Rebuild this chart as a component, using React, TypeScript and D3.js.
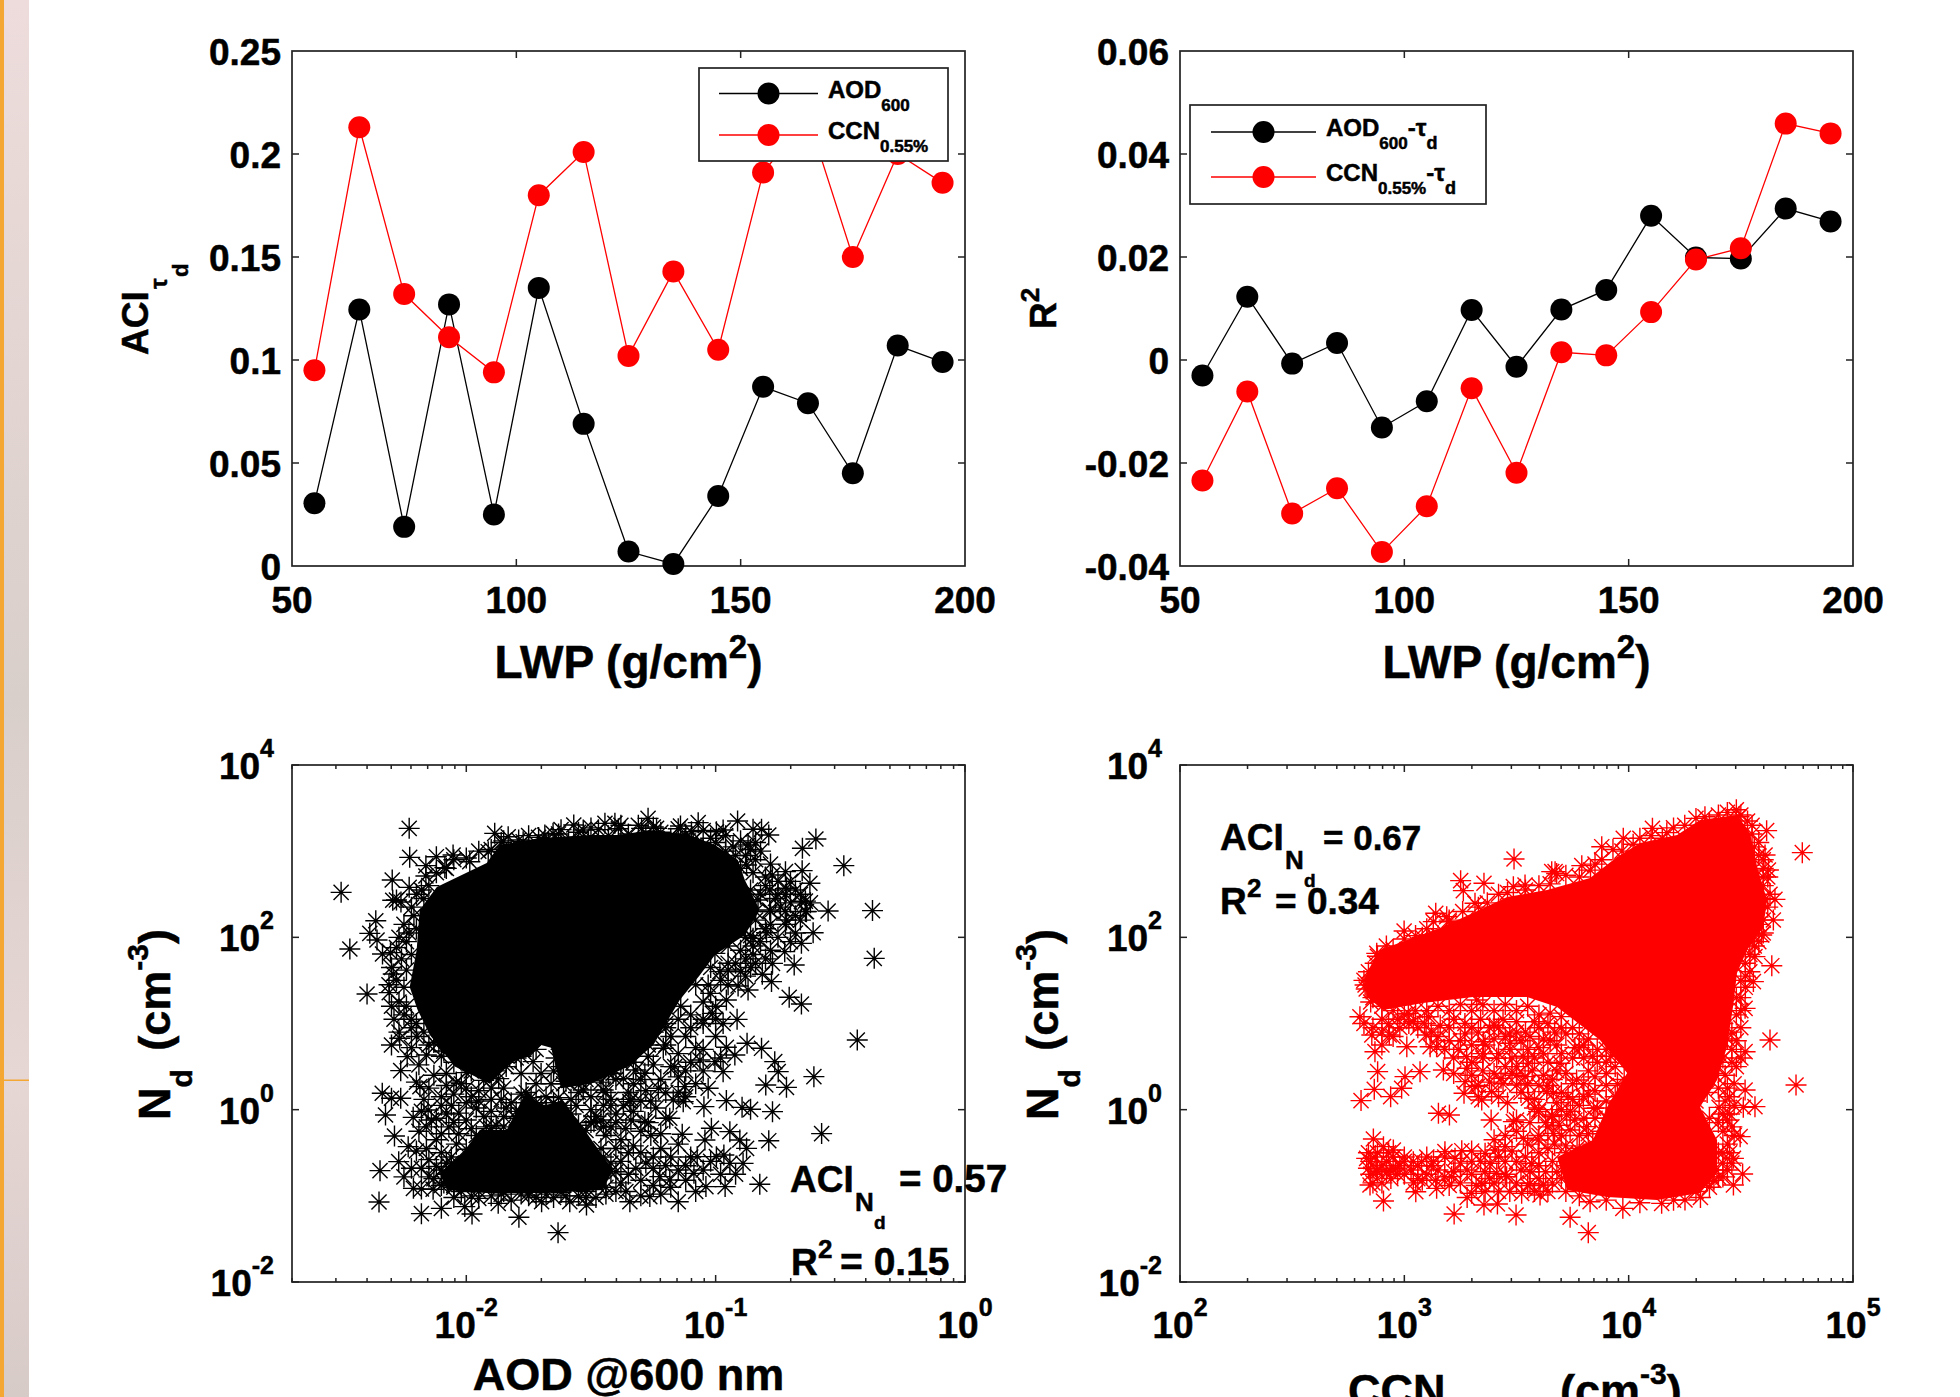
import React from "react";
import * as d3 from "d3";

const FONT = "'Liberation Sans', Arial, sans-serif";

// top row: value per LWP bin
const lwp = [55, 65, 75, 85, 95, 105, 115, 125, 135, 145, 155, 165, 175, 185, 195];
const aciAod = [0.0305, 0.1245, 0.019, 0.127, 0.025, 0.135, 0.069, 0.007, 0.001, 0.034, 0.087, 0.079, 0.045, 0.107, 0.099];
const aciCcn = [0.095, 0.213, 0.132, 0.111, 0.094, 0.18, 0.201, 0.102, 0.143, 0.105, 0.191, 0.218, 0.15, 0.2, 0.186];
const r2Aod = [-0.003, 0.0123, -0.0007, 0.0033, -0.0131, -0.008, 0.0097, -0.0013, 0.0098, 0.0136, 0.028, 0.0199, 0.0197, 0.0294, 0.0269];
const r2Ccn = [-0.0234, -0.0061, -0.0298, -0.0249, -0.0373, -0.0284, -0.0055, -0.0219, 0.0015, 0.0009, 0.0093, 0.0195, 0.0217, 0.0459, 0.044];

const lwpTicks = [50, 100, 150, 200];
const aciTicks = ["0", "0.05", "0.1", "0.15", "0.2", "0.25"];
const r2Ticks = ["-0.04", "-0.02", "0", "0.02", "0.04", "0.06"];
const ndExponents = [-2, 0, 2, 4];
const aodExponents = [-2, -1, 0];
const ccnExponents = [2, 3, 4, 5];

// bottom row: [log10 x, log10 y] of points
const aodPoints = [
  [-2.229,3.265],[-2.227,2.928],[-2.502,2.522],[-2.297,2.665],[-2.229,2.58],[-2.363,2.193],[-2.387,2.046],[-2.358,1.969],[-2.467,1.865],[-2.336,1.807],[-2.304,1.822],[-2.398,1.342],[-2.309,1.358],[-2.28,2.433],[-2.295,2.43],[-2.262,2.41],[-2.293,1.575],[-2.162,2.832],[-2.12,2.936],[-2.086,2.809],[-2.162,2.712],[-2.053,2.956],[-1.986,2.878],[-1.886,3.207],[-1.912,2.994],[-1.832,3.168],[-1.772,3.11],[-1.685,3.188],[-1.652,3.207],[-1.569,3.304],[-1.531,3.246],[-1.444,3.323],[-1.404,3.323],
  [-1.271,3.381],[-1.297,3.265],[-1.237,3.265],[-1.141,3.292],[-1.07,3.331],[-1.097,3.226],[-0.997,3.226],[-0.97,3.245],[-0.912,3.35],[-0.85,3.254],[-0.816,3.254],[-0.787,3.188],[-0.87,3.072],[-0.876,2.84],[-0.598,3.141],[-0.652,3.033],[-0.486,2.832],[-0.773,2.723],[-0.72,2.762],[-0.653,2.774],[-0.622,2.627],[-0.716,2.569],[-0.783,2.549],[-0.83,2.433],[-0.656,2.414],[-0.636,2.298],[-0.549,2.306],[-0.371,2.31],[-0.783,2.317],[-0.716,2.201],[-0.796,2.054],[-0.609,2.054],[-0.656,1.93],[-0.85,1.988],[-0.364,1.756],[-0.723,1.834],[-0.685,1.679],[-0.772,1.698],[-0.813,1.571],[-0.776,1.486],[-0.87,1.389],[-0.91,1.435],[-0.957,1.273],[-0.95,1.621],[-0.983,1.602],[-0.705,1.304],[-0.656,1.226],[-0.914,1.048],[-1.013,1.118],[-1.03,1.447],[-1.003,1.814],
  [-2.267,0.828],[-2.237,0.615],[-2.263,0.453],[-2.337,0.19],[-2.3,0.132],[-2.263,0.132],[-2.324,-0.062],[-2.213,-0.089],[-2.288,-0.305],[-2.233,-0.429],[-2.271,-0.603],[-2.346,-0.708],[-2.35,-1.071],[-2.212,-0.913],[-2.133,-0.924],[-2.18,-1.207],[-2.1,-1.145],[-1.977,-1.211],[-2.006,-1.125],[-1.789,-1.249],[-1.632,-1.427],[-1.872,-1.087],[-1.698,-1.068],[-1.585,-1.068],[-1.518,-1.106],[-1.732,0.557],[-1.488,-0.139],[-1.558,-0.835],[-1.451,0.228],[-1.531,0.228],[-1.411,0.422],[-2.186,0.267],[-2.153,-0.004],[-2.16,0.635],
  [-0.432,0.809],[-0.606,0.383],[-0.575,-0.278],[-0.957,0.724],[-0.923,0.635],[-0.874,0.77],[-0.816,0.712],[-0.763,0.557],[-0.749,0.441],[-0.799,0.286],[-0.716,0.259],[-0.97,0.441],[-1.003,0.557],[-1.063,0.577],[-1.03,0.248],[-0.957,0.105],[-1.047,0.035],[-0.894,0.027],[-0.86,0.004],[-0.772,-0.023],[-0.787,-0.36],[-1.017,-0.216],[-0.943,-0.255],[-1.043,-0.352],[-0.903,-0.352],[-0.876,-0.449],[-0.967,-0.526],[-0.997,-0.545],[-0.89,-0.623],[-0.943,-0.623],[-1.074,-0.545],[-1.087,-0.739],[-1.039,-0.893],[-0.962,-0.893],[-0.823,-0.866],[-1.134,-0.286],[-1.15,-1.068],[-1.264,-1.009],[-1.344,-1.068],[-1.184,-0.816],[-1.224,-0.777],[-1.284,-0.139],[-1.184,-0.1],[-1.13,0.093],[-1.17,0.112],[-1.124,0.267],[-1.23,0.248],[-1.284,0.422],[-1.164,0.499],[-1.21,0.712],[-1.344,0.093],[-1.337,0.692],
  [-2.15,0.75],[-2.1,0.62],[-2.19,0.52],[-2.13,0.4],[-2.08,0.28],[-2.17,0.12],[-2.1,0.05],[-2.05,0.18],[-2.14,-0.12],[-2.07,-0.2],[-2.19,-0.25],[-2.12,-0.35],[-2.04,-0.4],[-2.2,-0.48],[-2.15,-0.58],[-2.08,-0.62],[-2.22,-0.68],[-2.13,-0.8],[-2.05,-0.88],[-2.18,-0.92],[-2.25,-0.78],[-2.02,0.3],[-1.98,0.15],[-1.96,0.02],[-2,-0.12],[-1.93,-0.08],[-1.98,0.45],[-1.9,0.12],[-1.85,0.25],[-1.82,0.08],[-1.78,0.42],[-1.75,-0.02],[-1.88,-0.18],[-1.72,0.3],[-1.68,0.15],[-1.65,0.45],[-1.6,0.33],[-1.58,0.58],[-1.62,0.7],[-1.52,0.62],[-1.5,0.42],[-1.48,0.75],[-1.42,0.62],[-1.4,0.35],[-1.38,0.55],[-1.35,0.2],[-1.3,0.35],[-1.45,0.05],[-1.4,-0.05],[-1.33,-0.02],[-1.3,0.1],[-1.27,-0.15],[-1.36,-0.22],[-1.44,-0.3],[-1.4,-0.45],[-1.33,-0.42],[-1.26,-0.3],[-1.22,-0.45],[-1.18,-0.55],[-1.28,-0.62],[-1.15,-0.7],[-1.35,-0.75],[-1.25,-0.88],[-1.4,-0.95],[-1.48,-1.02],[-1.55,-1],[-1.65,-1.02],[-1.75,-1],[-1.82,-1.05],[-1.95,-1.03],[-2.05,-1.02],[-1.12,-0.82],[-1.08,-0.95],[-1.25,0.52],[-1.15,0.38],[-1.1,0.55],[-1.05,0.7],[-1,0.85],[-1.12,0.85],[-1.2,0.95],[-1.05,1],[-0.98,0.6],
  [-1,1.2],[-0.95,1.45],[-0.88,1.55],[-0.92,1.7],[-0.85,1.9],[-0.8,2.1],[-0.78,2.3],[-0.76,2.45],[-0.8,2.6],[-0.85,2.75],[-0.88,2.95],[-0.93,3.05],[-1.02,3.15],[-1.12,3.2],[-1.25,3.28],[-1.38,3.3],[-1.5,3.27],[-1.62,3.25],[-1.75,3.18],[-1.85,3.12],[-1.95,3],[-2.05,2.9],[-2.12,2.75],[-2.18,2.55],[-2.22,2.35],[-2.25,2.15],[-2.24,1.95],[-2.26,1.75],[-2.28,1.5],[-2.27,1.25],[-2.25,1.1],[-2.22,0.95],
  [-1.9,3.02],[-1.86,3.1],[-1.82,3],[-1.79,3.13],[-1.75,3.05],[-1.71,3.16],[-1.67,3.1],[-1.63,3.2],[-1.59,3.12],[-1.55,3.22],[-1.51,3.14],[-1.47,3.25],[-1.43,3.18],[-1.39,3.26],[-1.35,3.2],[-1.31,3.3],[-1.28,3.2],[-1.22,3.22],[-1.18,3.15],[-1.15,3.26],[-1.09,3.13],[-1.05,3.24],[-1,3.1],[-0.96,3.18],[-0.9,3.12],[-0.86,3.02],[-0.84,2.9],[-0.92,2.95],[-0.96,3],
  [-2,2.92],[-2.08,2.8],[-2.15,2.6],[-2.17,2.45],[-2.2,2.5],[-2.21,2.25],[-2.23,2.05],[-2.27,2],[-2.2,2.1],[-2.28,1.88],[-2.22,1.8],[-2.3,1.65],[-2.24,1.62],[-2.25,1.42],[-2.31,1.45],[-2.3,1.2],[-2.24,1.2],[-2.29,1.05],[-2.22,1.05],[-2.27,0.9],[-2.2,0.85],[-2.3,0.75],[-2.22,0.72],
  [-2.11,0.78],[-2.05,0.72],[-2,0.6],[-1.94,0.52],[-1.88,0.45],[-1.84,0.5],[-1.8,0.6],[-1.55,0.2],[-1.5,0.15],[-1.44,0.2],[-1.37,0.36],[-1.32,0.46],[-1.27,0.62],[-1.2,0.75],[-1.15,0.65],[-1.18,0.5],[-1.22,0.35],[-1.28,0.22],[-1.34,0.12],[-1.42,0.12],[-1.5,0],[-1.56,0.05],[-1.62,0.02],[-1.68,-0.02],[-1.72,0.08],[-1.78,0.18],[-1.84,0.02],[-1.9,-0.02],[-1.95,0.22],[-2,0.08],[-2.03,-0.04],[-2.06,0.05],[-2.1,0.15],[-2.15,0.25],[-2.2,0.32],[-2.18,-0.02],[-2.12,-0.1],[-2.08,-0.05],[-2.05,-0.15],[-2.16,-0.2],[-2.1,-0.28],[-2.03,-0.28],[-1.98,-0.22],[-1.92,-0.2],[-1.85,-0.08],[-1.8,-0.1],[-1.72,-0.15],[-1.65,-0.12],[-1.6,-0.15],[-1.55,-0.18],[-1.5,-0.15],[-1.46,-0.12],[-1.42,-0.2],[-1.38,-0.35],[-1.35,-0.5],[-1.3,-0.5],[-1.38,-0.6],[-1.32,-0.68],[-1.25,-0.68],[-1.2,-0.65],[-1.25,-0.55],[-1.3,-0.82],[-1.42,-0.72],[-1.38,-0.85],[-1.45,-0.55],
  [-2.16,-0.45],[-2.1,-0.5],[-2.06,-0.55],[-2.18,-0.68],[-2.12,-0.66],[-2.08,-0.75],[-2.02,-0.72],[-2.15,-0.78],[-2.1,-0.88],[-2.02,-0.95],[-1.98,-1],[-1.9,-1],[-1.86,-0.98],[-1.78,-0.98],[-1.72,-1.02],[-1.68,-0.98],[-1.6,-1],[-1.52,-1.02],[-1.44,-0.98],[-1.36,-0.95],[-1.3,-1],[-1.22,-0.98],[-1.18,-0.9],
  [-1.95,0.7],[-1.9,0.62],[-1.7,0.42],[-1.66,0.3],[-1.64,0.6],
  [-1.05,1.25],[-1.1,1.1],[-1.15,1.05],[-1.02,1.35],[-0.98,1.5],[-0.9,1.6],[-0.95,1.7],[-0.88,1.75],[-0.86,1.65],[-0.9,1.85],[-0.86,2.02],[-0.82,1.95],[-0.78,1.85],[-0.84,2.2],[-1.05,1.05],[-1.1,0.95],[-1.18,0.85],[-1.25,0.9],[-1.3,0.8],[-1,1.05],[-0.97,1],[-1.08,0.72],
  [-0.82,2.5],[-0.78,2.15],[-0.74,2.35],[-0.7,2.4],[-0.72,2.15],[-0.68,2.25],[-0.66,2.5],[-0.7,2.65],[-0.75,2.65],[-0.66,2.2],[-0.64,2.3],[-0.62,2.4],[-0.64,2.42],
  [-2.1,-0.7],[-2.06,-0.62],[-2,-0.46],[-1.96,-0.3],[-1.9,-0.22],[-1.85,-0.2],[-1.8,-0.02],[-1.76,0.2],[-1.7,0.05],[-1.63,0.14],[-1.58,-0.05],[-1.52,-0.24],[-1.46,-0.45],[-1.42,-0.62],[-1.4,-0.72],[-1.44,-0.9],[-1.52,-0.95],[-1.62,-0.96],[-1.75,-0.96],[-1.85,-0.95],[-1.95,-0.95],[-2.05,-0.9],[-2.09,-0.85],
  [-2.2,1],[-2.17,0.9],[-2.13,0.78],[-2.09,0.68],[-2.05,0.55],[-2,0.43],[-1.93,0.34],[-1.87,0.36],[-1.84,0.55],[-1.78,0.62],[-1.72,0.7],[-1.62,0.5],[-1.61,0.3],[-1.52,0.35],[-1.43,0.42],[-1.33,0.55],[-1.27,0.75],[-1.2,1],[-1.14,1.2],[-1.08,1.45],[-1.02,1.65],[-0.95,1.9],[-0.88,2],[-0.84,2.3],[-0.86,2.55],[-0.9,2.8],
  [-2.08,0.42],[-2.04,0.32],[-2,0.25],[-1.95,0.1],[-1.9,0.25],[-1.86,0.12],[-1.74,0.14],[-1.65,0.08],[-1.58,0.12],[-1.54,0.32],[-1.46,0.32],[-1.42,0.05],[-1.37,0.05],[-1.33,0.3],[-1.26,0.1],[-1.2,0.2],[-1.12,0.15],[-1.08,0.3],[-1.05,0.45],[-1.12,0.45],[-1.15,0.2],[-1.24,0.02],[-1.2,-0.1],[-1.34,-0.12],[-1.3,-0.25],[-1.22,-0.28],[-1.15,-0.4],[-1.1,-0.55],[-1.12,-0.65],[-1.05,-0.7],[-1.02,-0.6],[-0.98,-0.75],[-0.92,-0.75],[-1.45,-0.2],[-1.48,-0.08],[-1.4,-0.15],
  [-0.72,2.5],[-0.68,2.55],[-0.75,2.5],[-0.72,2.3],[-0.68,2.05],[-0.75,2],[-0.7,1.95],[-0.8,1.75],[-0.84,1.7],[-0.85,1.8],[-0.8,2.7],[-0.78,2.85],[-0.82,3],[-0.84,3.1],
];
// where the markers merge into solid colour
const aodCore = [
  [-1.918,2.863],[-2.118,2.584],[-2.187,2.317],[-2.199,1.853],[-2.227,1.424],[-2.195,1.157],[-2.146,0.867],[-2.046,0.5],[-1.906,0.3],[-1.82,0.55],[-1.75,0.62],[-1.7,0.75],[-1.66,0.72],[-1.62,0.25],[-1.5,0.3],[-1.35,0.5],[-1.25,0.75],[-1.144,1.273],[-1.063,1.563],[-1.003,1.795],[-0.883,2.027],[-0.823,2.317],[-0.883,2.665],[-0.911,2.898],[-1.003,3.072],[-1.104,3.188],[-1.264,3.246],[-1.384,3.188],[-1.505,3.188],[-1.705,3.153],[-1.866,3.072],
];
const aodLowCore = [
  [-2.106,-0.735],[-2.014,-0.503],[-1.946,-0.236],[-1.838,-0.236],[-1.757,0.228],[-1.705,0.031],[-1.613,0.112],[-1.517,-0.271],[-1.412,-0.7],[-1.452,-0.932],[-1.677,-0.967],[-1.918,-0.967],[-2.078,-0.932],
];
const ccnPoints = [
  [4.774,2.983],[4.615,3.238],[4.492,3.4],[4.106,3.265],[4.17,3.215],[3.976,3.149],[3.88,3.052],[3.791,2.832],[3.672,2.762],[3.657,2.762],[3.679,2.74],[3.489,2.909],[3.538,2.607],[3.486,2.588],[3.355,2.627],[3.251,2.658],[3.263,2.542],[3.315,2.395],[3.14,2.279],[3.189,2.24],[3.129,2.182],[2.999,2.074],[2.877,1.814],[2.825,1.447],[2.802,1.079],[4.652,2.441],[4.645,2.201],[4.638,1.671],[4.556,1.486],[4.563,1.776],[4.593,2.027],[4.608,2.955],[4.623,2.781],[4.519,1.176],[3.018,1.118],[3.107,1.079],[3.323,1.273],
  [4.746,0.286],[4.63,0.809],[4.519,0.673],[4.519,0.228],[4.563,0.035],[4.511,0.027],[4.403,0.027],[4.497,-0.313],[4.467,-0.565],[4.508,-0.747],[4.467,-0.874],[4.348,-0.835],[4.147,-1.087],[4.251,-1.048],[3.974,-1.145],[3.82,-1.427],[3.739,-1.249],[3.828,-1.068],[3.498,-1.222],[3.222,-1.211],[3.415,-1.095],[3.355,-1.106],[2.907,-1.06],[3.051,-0.952],[3.144,-0.913],[3.211,-0.777],[2.847,-0.874],[2.832,-0.565],[2.862,-0.34],[2.907,-0.429],[2.951,-0.468],[2.936,-0.7],[2.877,-0.7],[3.04,-0.603],[3.077,-0.603],[3.181,-0.487],[3.256,-0.476],[3.226,-0.565],[3.36,-0.507],[3.449,-0.429],[3.405,-0.468],[3.345,-0.855],[3.3,-0.971],[3.523,-0.971],[3.605,-0.99],[3.62,-0.874],[3.531,-0.332],[3.597,-0.352],[3.568,-0.622],[3.387,-0.12],[3.486,-0.139],[3.152,-0.042],[3.201,-0.062],[2.807,0.105],[2.866,0.236],[2.939,0.151],[2.988,0.248],[2.881,0.441],[3.003,0.383],[3.07,0.441],[3.174,0.461],[2.869,0.673],[3.011,0.731],[3.115,0.731],[3.144,0.731],[2.855,0.867],[2.933,0.867],[3.097,0.867],[3.266,0.19],[3.345,0.112],[3.271,0.325],[3.315,0.267],[3.389,0.209],[3.431,0.364],[3.278,0.615],[3.553,0.132],[3.538,0.383],[3.501,0.286],[3.635,0.209],[3.664,0.19],[3.598,-0.023],[3.657,-0.062],[3.724,-0.062],[3.768,0.344],[3.694,0.538],[3.553,0.538],[3.412,0.596],[3.471,0.77],[3.352,0.789],[3.798,0.151],[3.843,0.016],[3.739,-0.236],[3.813,-0.197],[3.664,-0.275],[3.56,-0.855],[3.456,-0.778],[3.412,-0.739],[3.382,-0.622],
  [3.05,2.02],[3.2,2.2],[3.33,2.35],[3.42,2.5],[3.6,2.6],[3.72,2.72],[3.85,2.85],[3.93,3.02],[4.05,3.15],[4.2,3.27],[4.3,3.38],[4.4,3.42],[4.5,3.42],[4.55,3.3],[4.58,3.1],[4.6,2.9],[4.62,2.7],[4.63,2.5],[4.6,2.2],[4.58,1.95],[4.54,1.8],[4.52,1.55],[4.5,1.3],[4.48,1.1],[4.46,0.9],[4.42,0.6],[4.38,0.42],[4.35,0.2],[4.3,0.1],[4.36,-0.1],[4.42,-0.25],[4.4,-0.5],[4.38,-0.7],[4.3,-0.95],[4.2,-1.05],[4.05,-1.08],[3.9,-1.05],[3.78,-1],[3.7,-0.8],[3.72,-0.5],[3.78,-0.3],[3.85,-0.1],[3.9,0.1],[3.95,0.3],[3.9,0.55],[3.8,0.75],[3.7,0.95],[3.6,1.1],[3.5,1.15],[3.4,1.15],[3.3,1.15],[3.2,1.15],[3.1,1.15],[3,1.1],[2.9,1.05],[2.85,1.25],[2.83,1.4],[2.84,1.6],[2.88,1.78],
  [3.3,0.95],[3.4,0.98],[3.5,0.9],[3.6,0.95],[3.55,0.7],[3.45,0.85],[3.62,0.65],[3.75,0.6],[3.75,0.3],[3.82,0.45],[3.62,0.4],[3.7,0.2],[3.6,0],[3.8,-0.1],[3.67,-0.4],[3.6,-0.5],[3.52,-0.7],[3.42,-0.55],[3.3,-0.75],[3.25,-0.85],[3.15,-0.7],[3.1,-0.75],[3,-0.75],[2.95,-0.55],[2.88,-0.5],[2.85,-0.75],[2.9,-0.85],[3.47,-0.95],[3.4,-0.85],[3.3,-0.6],[3.02,1],[2.95,0.85],[2.9,0.9],[3.2,0.95],[3.15,0.85],[3.35,0.65],[3.45,0.5],[3.55,0.3],[3.35,0.45],[3.25,0.8],[3.65,0.8],[4.43,0.1],[4.46,-0.2],[4.45,-0.5],[4.4,0.25],
  [2.85,-0.6],[2.87,-0.55],[2.9,-0.65],[2.92,-0.6],[2.88,-0.72],[2.93,-0.5],[2.96,-0.68],[2.84,-0.68],[2.98,-0.65],[3,-0.6],[3.03,-0.7],[3.06,-0.65],
  [3,1.98],[3.1,2.1],[3.2,2.18],[3.26,2.3],[3.37,2.4],[3.46,2.52],[3.54,2.55],[3.65,2.62],[3.78,2.7],[3.83,2.78],[3.88,2.9],[3.97,3],[4.02,3.08],[4.1,3.18],[4.15,3.15],[4.25,3.3],[4.34,3.4],[4.36,3.32],[4.44,3.45],[4.48,3.48],[2.92,1.9],[2.95,1.86],[3.08,2],[3.15,2.02],
  [4.55,3.2],[4.58,2.95],[4.6,2.8],[4.6,2.6],[4.62,2.35],[4.6,2.05],[4.56,1.9],[4.54,1.6],[4.52,1.42],[4.5,1.15],[4.5,0.95],[4.48,0.8],[4.46,0.55],[4.43,0.4],[4.4,0.5],[4.44,0.25],[4.42,-0.05],[4.4,-0.15],[4.45,-0.05],[4.44,-0.4],[4.42,-0.62],[4.4,-0.78],[4.36,-0.9],[4.32,-1.02],[4.44,-0.7],
  [2.82,1.5],[2.86,1.3],[2.87,1.7],[2.9,1.2],[2.95,1.15],[3.05,1.15],[3.15,1.2],[3.25,1.22],[3.35,1.22],[3.45,1.22],[3.55,1.2],[3.65,1.12],
  [2.82,1],[2.86,0.95],[2.93,1],[2.97,1.05],[3.04,1.02],[3.09,1],[3.16,0.98],[3.22,1.05],[3.27,1],[3.34,1.05],[3.38,0.95],[3.44,1.05],[3.5,1.02],[3.54,0.9],[3.58,1.02],[3.64,1],[3.7,1.08],[3.75,0.95],
  [3.2,0.8],[3.27,0.88],[3.33,0.9],[3.4,0.82],[3.47,0.88],[3.52,0.8],[3.56,0.85],[3.62,0.82],[3.68,0.75],[3.72,0.88],[3.78,0.88],[3.82,0.82],[3.86,0.7],
  [3.22,0.6],[3.3,0.55],[3.35,0.6],[3.42,0.65],[3.47,0.7],[3.53,0.62],[3.58,0.6],[3.64,0.55],[3.7,0.65],[3.76,0.72],[3.8,0.6],[3.86,0.55],[3.92,0.62],[3.9,0.42],
  [3.22,0.42],[3.3,0.4],[3.4,0.42],[3.48,0.42],[3.57,0.45],[3.6,0.28],[3.66,0.35],[3.72,0.42],[3.8,0.3],[3.85,0.38],[3.9,0.28],[3.94,0.15],
  [3.33,0.15],[3.42,0.15],[3.46,0.08],[3.52,0.2],[3.58,0.12],[3.68,0.08],[3.75,0.12],[3.82,0.18],[3.86,0.02],[3.74,-0.02],[3.7,0],
  [3.56,-0.15],[3.63,-0.15],[3.69,-0.18],[3.76,-0.12],[3.82,-0.28],[3.7,-0.3],[3.64,-0.45],[3.72,-0.42],[3.77,-0.45],
  [3.18,-0.55],[3.13,-0.6],[3.08,-0.82],[3.25,-0.62],[3.3,-0.48],[3.34,-0.6],[3.36,-0.72],[3.45,-0.6],[3.48,-0.48],[3.5,-0.85],[3.56,-0.72],[3.6,-0.65],[3.63,-0.72],[3.66,-0.6],[3.58,-0.95],[3.54,-0.55],[3.42,-0.95],[3.36,-0.95],[3.32,-0.88],[3.28,-1.02],[3.2,-0.88],[3.14,-0.82],[3.04,-0.85],
  [2.9,0.75],[2.98,0.95],[3.06,0.95],[3.12,0.9],[3.18,0.7],[3.24,0.7],[3.3,0.75],[3.36,0.75],[3.42,0.95],[3.48,0.6],[3.5,0.5],[3.6,0.72],[3.67,0.9],[3.78,0.72],[3.84,0.62],[3.9,0.7],[3.94,0.5],[3.98,0.35],[3.28,0.48],[3.33,0.28],[3.38,0.32],[3.44,0.3],[3.5,0.4],[3.64,0.28],[3.68,0.45],[3.73,0.15],[3.78,0.05],[3.85,0.22],[3.9,-0.1],[3.88,-0.25],[3.84,-0.4],[3.78,-0.52],[3.72,-0.65],[3.68,-0.72],[3.66,-0.85],[3.72,-0.95],[3.64,-0.95],[3.6,-0.8],[3.55,-0.88],[3.5,-0.6],[3.45,-0.75],[3.38,-0.8],[3.28,-0.7],[3.22,-0.72],[3.18,-0.78],[3.12,-0.65],[3.06,-0.8],[3.1,-0.55],[3,-0.55],[2.97,-0.75],[2.92,-0.72],[2.94,-0.8],[2.84,-0.5],[2.86,-0.85],[3.4,-0.35],[3.45,-0.3],[3.5,-0.25],[3.55,-0.4],[3.6,-0.3],[3.64,-0.2],[3.5,-0.12],[3.58,0.02],[3.66,-0.08],
  [4.42,1],[4.44,0.82],[4.46,0.7],[4.48,0.5],[4.5,0.6],[4.47,0.3],[4.45,0.15],[4.47,0.05],[4.44,-0.12],[4.47,-0.3],[4.46,-0.62],[4.42,-0.78],[4.38,-0.82],[4.42,-0.5],[4.48,1.3],[4.5,1.5],[4.52,1.7],[4.55,1.95],[4.58,2.15],[4.6,2.45],[4.6,2.7],[4.56,3.05],[4.53,3.35],
];
const ccnCore = [
  [2.856,1.702],[2.892,1.853],[3.012,1.969],[3.159,2.108],[3.306,2.282],[3.458,2.468],[3.636,2.549],[3.828,2.689],[3.948,2.932],[4.051,3.095],[4.216,3.188],[4.318,3.362],[4.483,3.42],[4.541,3.211],[4.573,2.816],[4.617,2.433],[4.6,2.12],[4.528,1.853],[4.483,1.586],[4.465,1.192],[4.438,0.727],[4.394,0.344],[4.318,0.031],[4.394,-0.352],[4.394,-0.735],[4.318,-0.967],[4.126,-1.048],[3.904,-1.013],[3.725,-0.932],[3.681,-0.549],[3.841,-0.352],[3.904,0.031],[3.993,0.426],[3.872,0.809],[3.681,1.192],[3.547,1.308],[3.306,1.308],[3.083,1.238],[2.905,1.157],[2.834,1.308],[2.825,1.54],
];

const stripStops = [
  ["0%", "#eddcdb"],
  ["50%", "#d9cfca"],
  ["77%", "#e6d6d4"],
  ["100%", "#d7cbc8"],
];

const BLACK = "#000";
const RED = "#f00";
const INK = "#222";
const BIG = 45;
const TICK = 37;
const SUP = 25;

const star = (r: number) => {
  const k = r * 0.72;
  return `M${-r},0H${r}M0,${-r}V${r}M${-k},${-k}L${k},${k}M${-k},${k}L${k},${-k}`;
};

const Frame = ({ x0, x1, y0, y1 }: any) => (
  <rect x={x0} y={y0} width={x1 - x0} height={y1 - y0} fill="none" stroke={INK} strokeWidth={1.7} />
);

const Ticks = ({ xs, ys, x0, x1, y0, y1, len = 7 }: any) => (
  <g stroke={INK} strokeWidth={1.5}>
    {xs.map((x: number, i: number) => (
      <g key={i}>
        <line x1={x} x2={x} y1={y1} y2={y1 - len} />
        <line x1={x} x2={x} y1={y0} y2={y0 + len} />
      </g>
    ))}
    {ys.map((y: number, i: number) => (
      <g key={"y" + i}>
        <line x1={x0} x2={x0 + len} y1={y} y2={y} />
        <line x1={x1} x2={x1 - len} y1={y} y2={y} />
      </g>
    ))}
  </g>
);

const XLabel = ({ x, y }: any) => (
  <text x={x} y={y} textAnchor="middle" fontFamily={FONT} fontWeight="bold" fontSize={46}>
    LWP (g/cm<tspan dy={-20} fontSize={33}>2</tspan><tspan dy={20}>)</tspan>
  </text>
);

function LinePanel({ left, right, domain, tickLabels, a, b, children }: any) {
  const top = 51, bottom = 566;
  const x = d3.scaleLinear().domain([50, 200]).range([left, right]);
  const y = d3.scaleLinear().domain(domain).range([bottom, top]);
  const path = d3.line<number>().x((_, i) => x(lwp[i])).y((d) => y(d));
  return (
    <g>
      <Frame x0={left} x1={right} y0={top} y1={bottom} />
      <Ticks xs={lwpTicks.slice(1, -1).map((t) => x(t))} ys={tickLabels.slice(1, -1).map((t: string) => y(+t))} x0={left} x1={right} y0={top} y1={bottom} />
      {[{ v: a, c: BLACK }, { v: b, c: RED }].map(({ v, c }) => (
        <g key={c}>
          <path d={path(v) || ""} fill="none" stroke={c} strokeWidth={1.3} />
          {v.map((d: number, i: number) => <circle key={i} cx={x(lwp[i])} cy={y(d)} r={11} fill={c} />)}
        </g>
      ))}
      {tickLabels.map((t: string) => (
        <text key={t} x={left - 11} y={y(+t) + 14} textAnchor="end" fontFamily={FONT} fontWeight="bold" fontSize={TICK}>{t}</text>
      ))}
      {lwpTicks.map((t) => (
        <text key={t} x={x(t)} y={613} textAnchor="middle" fontFamily={FONT} fontWeight="bold" fontSize={TICK}>{t}</text>
      ))}
      <XLabel x={(left + right) / 2} y={678} />
      {children}
    </g>
  );
}

function LegendRow({ x0, x1, y, color, main, sub, tail, tailSub, textX }: any) {
  return (
    <g>
      <line x1={x0} x2={x1} y1={y} y2={y} stroke={color} strokeWidth={1.3} />
      <circle cx={(x0 + x1) / 2} cy={y} r={11} fill={color} />
      <text x={textX} y={y + 4} fontFamily={FONT} fontWeight="bold" fontSize={24}>
        {main}
        <tspan dy={13} fontSize={17}>{sub}</tspan>
        {tail && <tspan dy={-13} fontSize={24}>{tail}</tspan>}
        {tailSub && <tspan dy={13} fontSize={18}>{tailSub}</tspan>}
      </text>
    </g>
  );
}

function NdLabel({ x }: any) {
  return (
    <g transform={`translate(${x},1120) rotate(-90)`}>
      <text fontFamily={FONT} fontWeight="bold" fontSize={BIG}>
        N<tspan dy={22} fontSize={30}>d</tspan>
        <tspan dy={-22} dx={6}> (cm</tspan>
        <tspan dy={-22} fontSize={30}>-3</tspan>
        <tspan dy={22}>)</tspan>
      </text>
    </g>
  );
}

function ScatterPanel({ left, right, xDomain, xExps, points, cores, color, children }: any) {
  const top = 765, bottom = 1282;
  const x = d3.scaleLog().domain(xDomain).range([left, right]);
  const y = d3.scaleLog().domain([1e-2, 1e4]).range([bottom, top]);
  const px = (d: number[]) => x(Math.pow(10, d[0]));
  const py = (d: number[]) => y(Math.pow(10, d[1]));
  const area = d3.line<number[]>().x(px).y(py).curve(d3.curveLinearClosed);
  const minor = x.ticks().filter((t: number) => {
    const m = t / Math.pow(10, Math.floor(Math.log10(t) + 1e-9));
    return Math.abs(m - 1) > 1e-6;
  });
  const d = star(10.5);
  return (
    <g>
      {cores.map((c: number[][], i: number) => <path key={i} d={area(c) || ""} fill={color} />)}
      <g fill="none" stroke={color} strokeWidth={1.4}>
        {points.map((p: number[], i: number) => (
          <path key={i} d={d} transform={`translate(${px(p)},${py(p)})`} />
        ))}
      </g>
      <Frame x0={left} x1={right} y0={top} y1={bottom} />
      <Ticks xs={minor.map((t: number) => x(t))} ys={[]} x0={left} x1={right} y0={top} y1={bottom} len={4} />
      <Ticks
        xs={xExps.map((e: number) => x(Math.pow(10, e)))}
        ys={ndExponents.map((e) => y(Math.pow(10, e)))}
        x0={left} x1={right} y0={top} y1={bottom}
      />
      {ndExponents.map((e) => (
        <text key={e} x={left - 18} y={y(Math.pow(10, e)) + 14} textAnchor="end" fontFamily={FONT} fontWeight="bold" fontSize={TICK}>
          10<tspan dy={-22} fontSize={SUP}>{e}</tspan>
        </text>
      ))}
      {xExps.map((e: number) => (
        <text key={e} x={x(Math.pow(10, e))} y={1338} textAnchor="middle" fontFamily={FONT} fontWeight="bold" fontSize={TICK}>
          10<tspan dy={-22} fontSize={SUP}>{e}</tspan>
        </text>
      ))}
      {children}
    </g>
  );
}

function Note({ x, y, r2X, r2Y, aci, r2, eqX, r2EqX, eqSize, r2Size }: any) {
  const t = { fontFamily: FONT, fontWeight: "bold", fill: "#000" } as any;
  return (
    <g>
      <text {...t} x={x} y={y} fontSize={37}>ACI</text>
      <text {...t} x={x + 65} y={y + 19} fontSize={26}>N</text>
      <text {...t} x={x + 84} y={y + 37} fontSize={19}>d</text>
      <text {...t} x={eqX} y={y} fontSize={eqSize}>= {aci}</text>
      <text {...t} x={r2X} y={r2Y} fontSize={37}>R</text>
      <text {...t} x={r2X + 27} y={r2Y - 17} fontSize={26}>2</text>
      <text {...t} x={r2EqX} y={r2Y} fontSize={r2Size}>= {r2}</text>
    </g>
  );
}

export default function App() {
  return (
    <svg width={1960} height={1397} viewBox="0 0 1960 1397" style={{ position: "absolute", left: 0, top: 0, display: "block", background: "#fff" }}>
      <style>{"text{stroke:#000;stroke-width:.5px}"}</style>
      <defs>
        <linearGradient id="strip" x1="0" y1="0" x2="0" y2="1">
          {stripStops.map(([o, c]) => <stop key={o} offset={o} stopColor={c} />)}
        </linearGradient>
      </defs>
      <rect x={4} y={0} width={25} height={1397} fill="url(#strip)" />
      <rect x={0} y={0} width={4} height={1397} fill="#f4a733" />
      <rect x={4} y={1079.5} width={25} height={1.5} fill="#f4a733" />

      {/* ACI panel */}
      <LinePanel left={292} right={965} domain={[0, 0.25]} tickLabels={aciTicks} a={aciAod} b={aciCcn}>
        <rect x={699} y={68} width={249} height={93} fill="#fff" stroke={INK} strokeWidth={1.7} />
        <LegendRow x0={719} x1={818} y={93.5} color={BLACK} main="AOD" sub="600" textX={828} />
        <LegendRow x0={719} x1={818} y={135} color={RED} main="CCN" sub="0.55%" textX={828} />
      </LinePanel>
      <g transform="translate(148,355) rotate(-90)">
        <text fontFamily={FONT} fontWeight="bold" fontSize={37}>ACI</text>
        <text x={66} y={19} fontFamily={FONT} fontWeight="bold" fontSize={24}>τ</text>
        <text x={78} y={40} fontFamily={FONT} fontWeight="bold" fontSize={22}>d</text>
      </g>

      {/* R2 panel */}
      <LinePanel left={1180} right={1853} domain={[-0.04, 0.06]} tickLabels={r2Ticks} a={r2Aod} b={r2Ccn}>
        <rect x={1190} y={105} width={296} height={99} fill="#fff" stroke={INK} strokeWidth={1.7} />
        <LegendRow x0={1211} x1={1316} y={132} color={BLACK} main="AOD" sub="600" tail="-τ" tailSub="d" textX={1326} />
        <LegendRow x0={1211} x1={1316} y={177} color={RED} main="CCN" sub="0.55%" tail="-τ" tailSub="d" textX={1326} />
      </LinePanel>
      <g transform="translate(1056,329) rotate(-90)">
        <text fontFamily={FONT} fontWeight="bold" fontSize={37}>R<tspan dy={-17} fontSize={26}>2</tspan></text>
      </g>

      {/* AOD scatter */}
      <ScatterPanel left={292} right={965} xDomain={[0.002, 1]} xExps={aodExponents} points={aodPoints} cores={[aodCore, aodLowCore]} color={BLACK}>
        <Note x={790} y={1192} r2X={791} r2Y={1275} aci="0.57" r2="0.15" eqX={899} r2EqX={840} eqSize={38.5} r2Size={39} />
      </ScatterPanel>
      <NdLabel x={170} />
      <text x={628.5} y={1390} textAnchor="middle" fontFamily={FONT} fontWeight="bold" fontSize={BIG}>AOD @600 nm</text>

      {/* CCN scatter */}
      <ScatterPanel left={1180} right={1853} xDomain={[100, 100000]} xExps={ccnExponents} points={ccnPoints} cores={[ccnCore]} color={RED}>
        <Note x={1220} y={850} r2X={1220} r2Y={914} aci="0.67" r2="0.34" eqX={1323} r2EqX={1275} eqSize={35} r2Size={37} />
      </ScatterPanel>
      <NdLabel x={1058} />
      <text x={1348} y={1406} fontFamily={FONT} fontWeight="bold" fontSize={BIG}>CCN</text>
      <text x={1560} y={1406} fontFamily={FONT} fontWeight="bold" fontSize={BIG}>
        (cm<tspan dy={-22} fontSize={30}>-3</tspan><tspan dy={22}>)</tspan>
      </text>
    </svg>
  );
}
